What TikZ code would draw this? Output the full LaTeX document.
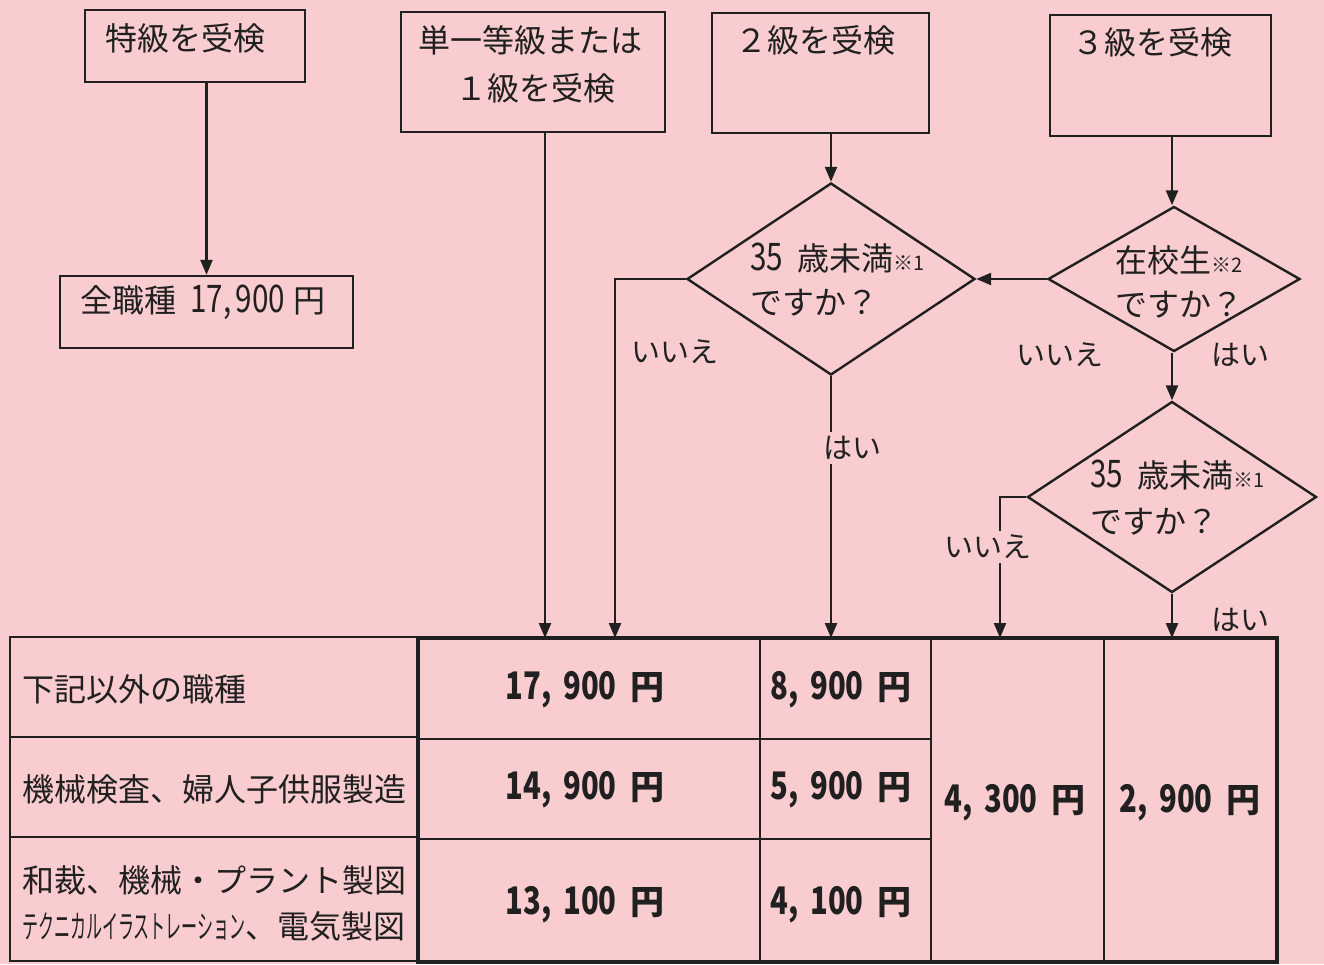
\documentclass[tikz,border=0pt]{standalone}
\usepackage{fontspec}
\setmainfont{Noto Sans CJK JP}
\usetikzlibrary{shapes.geometric,arrows.meta,calc}
\definecolor{bg}{RGB}{249,204,208}
\definecolor{ink}{RGB}{32,32,32}
\newcommand{\nfs}[1]{\fontsize{#1}{#1}\selectfont}
\newcommand{\cn}[1]{\scalebox{0.78}[1]{\nfs{38}#1}}
\newcommand{\tn}[2]{{\bfseries\scalebox{0.77}[1]{\nfs{38}#1,}\hspace{12pt}\scalebox{0.77}[1]{\nfs{38}#2}\hspace{14pt}{\nfs{34}円}}}
\newcommand{\smk}[1]{{\nfs{20}#1}}
\begin{document}
\begin{tikzpicture}[x=1pt,y=-1pt,
  box/.style={draw=ink,line width=2.4pt,rectangle,inner sep=0},
  dia/.style={draw=ink,line width=2.4pt,diamond,inner sep=0},
  arr/.style={draw=ink,line width=2.4pt,-{Triangle[length=15pt,width=12pt]}},
  ln/.style={draw=ink,line width=2.4pt},
  txt/.style={inner sep=0,text=ink,font=\nfs{32}},
  lbl/.style={inner sep=4pt,fill=bg,text=ink,font=\nfs{29}},
  tnum/.style={inner sep=0,text=ink}]
\fill[bg] (0,0) rectangle (1324,964);
\useasboundingbox (0,0) rectangle (1324,964);

% boxes
\node[box,minimum width=220pt,minimum height=72pt] (b0) at (195,46) {};
\node[txt] (b0t) at (185,38) {特級を受検};
\node[box,minimum width=293pt,minimum height=72pt] (r0) at (206.5,312) {};
\node[txt,anchor=west] (r0t) at (80,302) {全職種\hspace{14pt}\cn{17,\hspace{6pt}900}\hspace{8pt}円};
\node[box,minimum width=264pt,minimum height=120pt] (b1) at (533,72) {};
\node[txt] (b1t1) at (530,40) {単一等級または};
\node[txt] (b1t2) at (535,88) {１級を受検};
\node[box,minimum width=217pt,minimum height=120pt] (b2) at (820.5,73) {};
\node[txt] (b2t) at (815,40) {２級を受検};
\node[box,minimum width=221pt,minimum height=121pt] (b3) at (1160.5,75.5) {};
\node[txt] (b3t) at (1152,42) {３級を受検};

% diamonds
\node[dia,minimum width=288pt,minimum height=192pt] (d1) at (831,279) {};
\node[txt,anchor=west] (d1a) at (750,258) {\cn{35}\hspace{14pt}歳未満\smk{※1}};
\node[txt,anchor=west] (d1b) at (750,303) {ですか？};
\node[dia,minimum width=252pt,minimum height=145pt] (d2) at (1174,279) {};
\node[txt,anchor=west] (d2a) at (1115,260) {在校生\smk{※2}};
\node[txt,anchor=west] (d2b) at (1115,305) {ですか？};
\node[dia,minimum width=289pt,minimum height=191pt] (d3) at (1172,497) {};
\node[txt,anchor=west] (d3a) at (1090,475) {\cn{35}\hspace{14pt}歳未満\smk{※1}};
\node[txt,anchor=west] (d3b) at (1090,522) {ですか？};

% table
\node[draw=ink,line width=2.4pt,rectangle,inner sep=0,minimum width=408pt,minimum height=324pt] (tl) at (214,799) {};
\node[draw=ink,line width=3.2pt,rectangle,inner sep=0,minimum width=859pt,minimum height=324pt] (tr) at (847.5,800) {};
\draw[ln] (10,737) -- (418,737);
\draw[ln] (10,837) -- (418,837);
\draw[ln] (418,739) -- (931,739);
\draw[ln] (418,839) -- (931,839);
\draw[ln] (760,638) -- (760,962);
\draw[ln] (931,638) -- (931,962);
\draw[ln] (1104,638) -- (1104,962);

\coordinate (t1) at (545,638);
\coordinate (t2) at (615,638);
\coordinate (t3) at (831,638);
\coordinate (t4) at (1000,638);
\coordinate (t5) at (1172,638);

% connectors
\draw[arr] (b0.south -| r0.north) -- (r0.north);
\draw[arr] (b1.south -| t1) -- (t1);
\draw[arr] (b2.south -| d1.north) -- (d1.north);
\draw[arr] (d1.west) -- (d1.west -| t2) -- (t2);
\draw[arr] (d1.south) -- (t3);
\draw[arr] (b3.south -| t5) -- (t5 |- d2.north);
\draw[arr] (d2.west) -- (d1.east);
\draw[arr] (t5 |- d2.south) -- (d3.north);
\draw[arr] (d3.west) -- (d3.west -| t4) -- (t4);
\draw[arr] (d3.south) -- (t5);

% labels
\node[lbl] (l1) at (675,352) {いいえ};
\node[lbl] (l2) at (852,448) {はい};
\node[lbl] (l3) at (1060,355) {いいえ};
\node[lbl] (l4) at (1240,355) {はい};
\node[lbl] (l5) at (988,547) {いいえ};
\node[lbl] (l6) at (1240,620) {はい};

% table texts
\node[txt,anchor=west] (c1) at (22,689) {下記以外の職種};
\node[txt,anchor=west] (c2) at (22,789) {機械検査、婦人子供服製造};
\node[txt,anchor=west] (c3) at (22,880) {和裁、機械・プラント製図};
\node[txt,anchor=west] (c4) at (22,926) {\scalebox{0.5}[1]{テクニカルイラストレーション}、電気製図};
\node[tnum,anchor=east] (p11) at (665,690) {\tn{17}{900}};
\node[tnum,anchor=east] (p12) at (665,790) {\tn{14}{900}};
\node[tnum,anchor=east] (p13) at (665,905) {\tn{13}{100}};
\node[tnum,anchor=east] (p21) at (912,690) {\tn{8}{900}};
\node[tnum,anchor=east] (p22) at (912,790) {\tn{5}{900}};
\node[tnum,anchor=east] (p23) at (912,905) {\tn{4}{100}};
\node[tnum] (p3) at (1015,803) {\tn{4}{300}};
\node[tnum] (p4) at (1190,803) {\tn{2}{900}};
\end{tikzpicture}
\end{document}
